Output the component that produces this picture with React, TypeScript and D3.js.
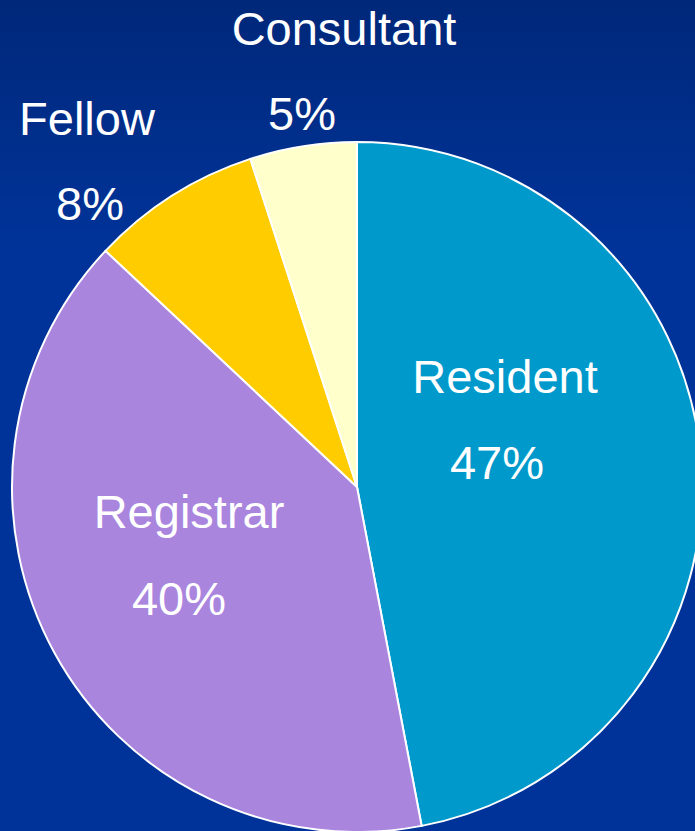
import * as d3 from "d3";

const categories = ["Resident", "Registrar", "Fellow", "Consultant"];
const shares = [47, 40, 8, 5];
const sliceColors = ["#0099CC", "#A985DE", "#FFCC00", "#FFFFCC"];

// where each name / percent pair sits (centre x, baselines)
const labelLayout: Record<string, { x: number; px: number; y1: number; y2: number }> = {
  Resident: { x: 505, px: 497, y1: 393, y2: 479 },
  Registrar: { x: 189, px: 179, y1: 528, y2: 615 },
  Fellow: { x: 87, px: 90, y1: 135, y2: 220 },
  Consultant: { x: 344, px: 302, y1: 45, y2: 130 },
};

export default function App() {
  const width = 695;
  const height = 831;
  const cx = 357;
  const cy = 487;
  const radius = 345;

  const data = categories.map((c, i) => ({ name: c, value: shares[i], color: sliceColors[i] }));
  const pie = d3.pie<any>().value(d => d.value).sort(null);
  const arc = d3.arc<any>().innerRadius(0).outerRadius(radius);
  const arcs = pie(data);

  return (
    <div style={{ position: "absolute", left: 0, top: 0 }}>
      <svg width={width} height={height} style={{ display: "block" }}>
        <defs>
          <linearGradient id="bg" x1="0" y1="0" x2="0" y2="1">
            <stop offset="0" stopColor="#00287A" />
            <stop offset="0.3" stopColor="#003399" />
            <stop offset="1" stopColor="#003399" />
          </linearGradient>
        </defs>
        <rect width={width} height={height} fill="url(#bg)" />
        <g transform={`translate(${cx},${cy})`}>
          {arcs.map((a, i) => (
            <path key={i} d={arc(a) || ""} fill={a.data.color} stroke="#fff" strokeWidth={2} />
          ))}
        </g>
        <g fill="#fff" fontFamily="'Liberation Sans', Arial, sans-serif" fontSize={47} textAnchor="middle">
          {data.map(d => {
            const l = labelLayout[d.name];
            return (
              <g key={d.name}>
                <text x={l.x} y={l.y1}>{d.name}</text>
                <text x={l.px} y={l.y2}>{d.value}%</text>
              </g>
            );
          })}
        </g>
      </svg>
    </div>
  );
}
